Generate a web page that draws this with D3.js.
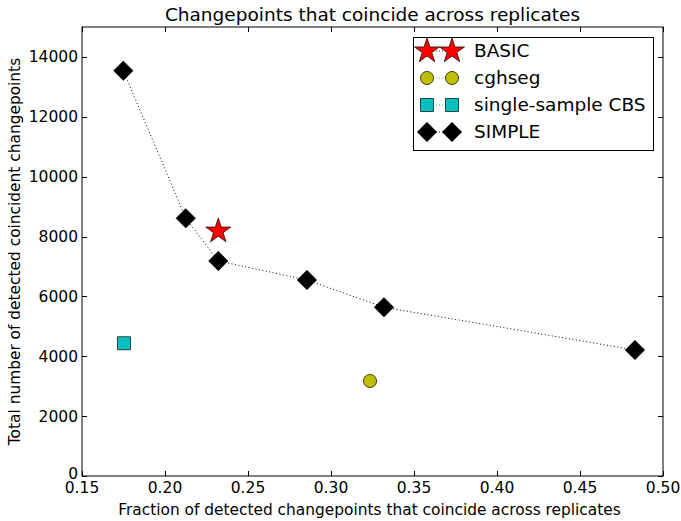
<!DOCTYPE html>
<html>
<head>
<meta charset="utf-8">
<script src="https://cdn.jsdelivr.net/npm/d3@7"></script>
<style>
  body { margin: 0; background: #fff; }
  text { font-family: "DejaVu Sans", sans-serif; }
</style>
</head>
<body>
<div id="chart"></div>
<script>
const width = 681;
const height = 521;
const margin = { top: 27, right: 18, bottom: 45, left: 82 };

// data
const simpleX = [0.1749, 0.2125, 0.2321, 0.2855, 0.3319, 0.4831];
const simpleY = [13541, 8610, 7183, 6549, 5637, 4210];
const basicX = [0.2321];
const basicY = [8180];
const cghsegX = [0.3235];
const cghsegY = [3174];
const cbsX = [0.1753];
const cbsY = [4434];

const xTicks = [0.15, 0.20, 0.25, 0.30, 0.35, 0.40, 0.45, 0.50];
const yTicks = [0, 2000, 4000, 6000, 8000, 10000, 12000, 14000];
const legendNames = ["BASIC", "cghseg", "single-sample CBS", "SIMPLE"];

const svg = d3.select("#chart")
  .append("svg")
  .attr("width", width)
  .attr("height", height);

const x = d3.scaleLinear()
  .domain([0.15, 0.50])
  .range([margin.left, width - margin.right]);

const y = d3.scaleLinear()
  .domain([0, 15000])
  .range([height - margin.bottom, margin.top]);

// marker shapes
const diamond = d3.symbol().type(d3.symbolSquare).size(190);
const star = d3.symbol().type(d3.symbolStar).size(195);
const square = d3.symbol().type(d3.symbolSquare).size(170);
const circle = d3.symbol().type(d3.symbolCircle).size(135);

function drawMarker(g, kind, cx, cy) {
  if (kind === "SIMPLE") {
    g.append("path").attr("d", diamond())
      .attr("transform", `translate(${cx},${cy}) rotate(45)`)
      .attr("fill", "#000").attr("stroke", "#000").attr("stroke-width", 0.5);
  } else if (kind === "BASIC") {
    g.append("path").attr("d", star())
      .attr("transform", `translate(${cx},${cy})`)
      .attr("fill", "#ff0000").attr("stroke", "#000").attr("stroke-width", 0.7);
  } else if (kind === "cghseg") {
    g.append("path").attr("d", circle())
      .attr("transform", `translate(${cx},${cy})`)
      .attr("fill", "#bfbf00").attr("stroke", "#000").attr("stroke-width", 0.7);
  } else {
    g.append("path").attr("d", square())
      .attr("transform", `translate(${cx},${cy})`)
      .attr("fill", "#00bfbf").attr("stroke", "#000").attr("stroke-width", 0.7);
  }
}

const marks = svg.append("g");

// SIMPLE dotted line
const simplePts = simpleX.map((d, i) => [d, simpleY[i]]);
marks.append("path")
  .datum(simplePts)
  .attr("fill", "none")
  .attr("stroke", "#000")
  .attr("stroke-width", 1)
  .attr("stroke-dasharray", "1,2.5")
  .attr("d", d3.line().x(d => x(d[0])).y(d => y(d[1])));

cbsX.forEach((d, i) => drawMarker(marks, "single-sample CBS", x(d), y(cbsY[i])));
cghsegX.forEach((d, i) => drawMarker(marks, "cghseg", x(d), y(cghsegY[i])));
simplePts.forEach(d => drawMarker(marks, "SIMPLE", x(d[0]), y(d[1])));
basicX.forEach((d, i) => drawMarker(marks, "BASIC", x(d), y(basicY[i])));

// axes frame and inward ticks
const axes = svg.append("g");
const tickLen = 5;
const x0 = margin.left, x1 = width - margin.right;
const y0 = height - margin.bottom, y1 = margin.top;

axes.append("rect")
  .attr("x", x0).attr("y", y1)
  .attr("width", x1 - x0).attr("height", y0 - y1)
  .attr("fill", "none").attr("stroke", "#000").attr("stroke-width", 1);

xTicks.forEach(t => {
  const px = Math.round(x(t)) + 0.5;
  axes.append("line").attr("x1", px).attr("x2", px).attr("y1", y0).attr("y2", y0 - tickLen).attr("stroke", "#000");
  axes.append("line").attr("x1", px).attr("x2", px).attr("y1", y1).attr("y2", y1 + tickLen).attr("stroke", "#000");
  axes.append("text")
    .attr("x", x(t)).attr("y", y0 + 17)
    .attr("text-anchor", "middle")
    .attr("font-size", "15.5px")
    .text(d3.format(".2f")(t));
});

yTicks.forEach(t => {
  const py = Math.round(y(t)) + 0.5;
  axes.append("line").attr("x1", x0).attr("x2", x0 + tickLen).attr("y1", py).attr("y2", py).attr("stroke", "#000");
  axes.append("line").attr("x1", x1).attr("x2", x1 - tickLen).attr("y1", py).attr("y2", py).attr("stroke", "#000");
  axes.append("text")
    .attr("x", x0 - 4).attr("y", y(t))
    .attr("dy", t === 0 ? "0.2em" : "0.35em")
    .attr("text-anchor", "end")
    .attr("font-size", "15.5px")
    .text(t);
});

// title and axis labels
svg.append("text")
  .attr("x", (x0 + x1) / 2).attr("y", 21)
  .attr("text-anchor", "middle")
  .attr("font-size", "18.5px")
  .text("Changepoints that coincide across replicates");

svg.append("text")
  .attr("x", (x0 + x1) / 2 - 3).attr("y", 515)
  .attr("text-anchor", "middle")
  .attr("font-size", "15.4px")
  .text("Fraction of detected changepoints that coincide across replicates");

svg.append("text")
  .attr("transform", `translate(20, ${(y0 + y1) / 2}) rotate(-90)`)
  .attr("text-anchor", "middle")
  .attr("font-size", "15.4px")
  .text("Total number of detected coincident changepoints");

// legend
const legendColors = { "BASIC": "#ff0000", "cghseg": "#bfbf00", "single-sample CBS": "#00bfbf", "SIMPLE": "#000" };
const legend = svg.append("g");
legend.append("rect")
  .attr("x", 413.5).attr("y", 37.5)
  .attr("width", 240).attr("height", 113)
  .attr("fill", "#fff").attr("stroke", "#000").attr("stroke-width", 1);

legendNames.forEach((name, i) => {
  const ly = 51 + i * 27;
  legend.append("line")
    .attr("x1", 427).attr("x2", 452).attr("y1", ly).attr("y2", ly)
    .attr("stroke", legendColors[name]).attr("stroke-width", 1)
    .attr("stroke-dasharray", "1,2");
  drawMarker(legend, name, 427, ly);
  drawMarker(legend, name, 452, ly);
  legend.append("text")
    .attr("x", 474).attr("y", ly)
    .attr("dy", "0.35em")
    .attr("font-size", "18.5px")
    .text(name);
});
</script>
</body>
</html>
